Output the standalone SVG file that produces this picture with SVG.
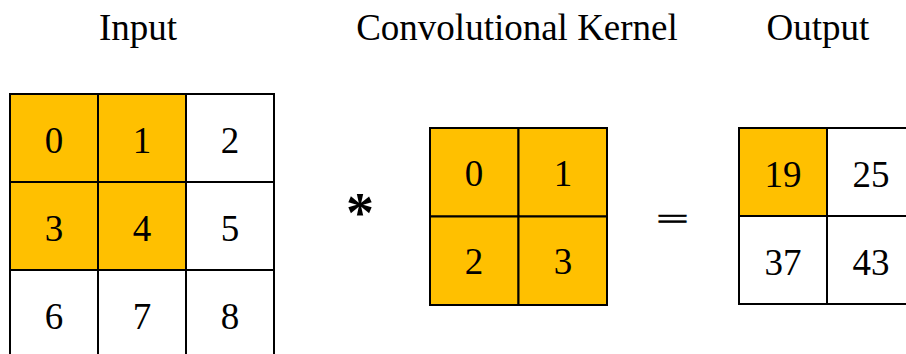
<svg xmlns="http://www.w3.org/2000/svg" width="906" height="354" viewBox="0 0 906 354">
  <style>
    .cell { fill: #ffffff; stroke: #000000; stroke-width: 2; }
    .hot { fill: #ffc000; }
    .num { font-family: "Liberation Serif", "Times New Roman", serif; font-size: 37px; fill: #000000; text-anchor: middle; }
    .title { font-family: "Liberation Serif", "Times New Roman", serif; font-size: 37px; fill: #000000; text-anchor: middle; }
    .op { font-family: "Liberation Serif", "Times New Roman", serif; fill: #000000; text-anchor: middle; }
  </style>
  <rect width="906" height="354" fill="#ffffff"/>

  <!-- headings -->
  <g id="titles">
    <text class="title" x="138" y="40">Input</text>
    <text class="title" x="517" y="40">Convolutional Kernel</text>
    <text class="title" x="818" y="40">Output</text>
  </g>

  <!-- 3x3 input matrix -->
  <g id="input">
    <rect class="cell hot" x="10" y="94" width="88" height="88"/>
    <rect class="cell hot" x="98" y="94" width="88" height="88"/>
    <rect class="cell" x="186" y="94" width="88" height="88"/>
    <rect class="cell hot" x="10" y="182" width="88" height="88"/>
    <rect class="cell hot" x="98" y="182" width="88" height="88"/>
    <rect class="cell" x="186" y="182" width="88" height="88"/>
    <rect class="cell" x="10" y="270" width="88" height="88"/>
    <rect class="cell" x="98" y="270" width="88" height="88"/>
    <rect class="cell" x="186" y="270" width="88" height="88"/>
    <text class="num" x="54" y="153">0</text>
    <text class="num" x="142" y="153">1</text>
    <text class="num" x="230" y="153">2</text>
    <text class="num" x="54" y="241">3</text>
    <text class="num" x="142" y="241">4</text>
    <text class="num" x="230" y="241">5</text>
    <text class="num" x="54" y="329">6</text>
    <text class="num" x="142" y="329">7</text>
    <text class="num" x="230" y="329">8</text>
  </g>

  <!-- convolution operator -->
  <g id="conv-op">
    <text class="op" x="360" y="232" font-size="56" font-weight="bold">*</text>
  </g>

  <!-- 2x2 kernel -->
  <g id="kernel">
    <rect class="cell hot" x="430" y="128" width="88.5" height="88.5"/>
    <rect class="cell hot" x="518.5" y="128" width="88.5" height="88.5"/>
    <rect class="cell hot" x="430" y="216.5" width="88.5" height="88.5"/>
    <rect class="cell hot" x="518.5" y="216.5" width="88.5" height="88.5"/>
    <text class="num" x="474" y="186">0</text>
    <text class="num" x="563" y="186">1</text>
    <text class="num" x="474" y="274">2</text>
    <text class="num" x="563" y="274">3</text>
  </g>

  <!-- equals sign -->
  <g id="equals">
    <text class="op" font-size="36" stroke="#000000" stroke-width="0.9" transform="translate(672.5 228.5) scale(1.6 0.8)">=</text>
  </g>

  <!-- 2x2 output -->
  <g id="output">
    <rect class="cell hot" x="739" y="128" width="88" height="88"/>
    <rect class="cell" x="827" y="128" width="88" height="88"/>
    <rect class="cell" x="739" y="216" width="88" height="88"/>
    <rect class="cell" x="827" y="216" width="88" height="88"/>
    <text class="num" x="783" y="187">19</text>
    <text class="num" x="871" y="187">25</text>
    <text class="num" x="783" y="275">37</text>
    <text class="num" x="871" y="275">43</text>
  </g>
</svg>
